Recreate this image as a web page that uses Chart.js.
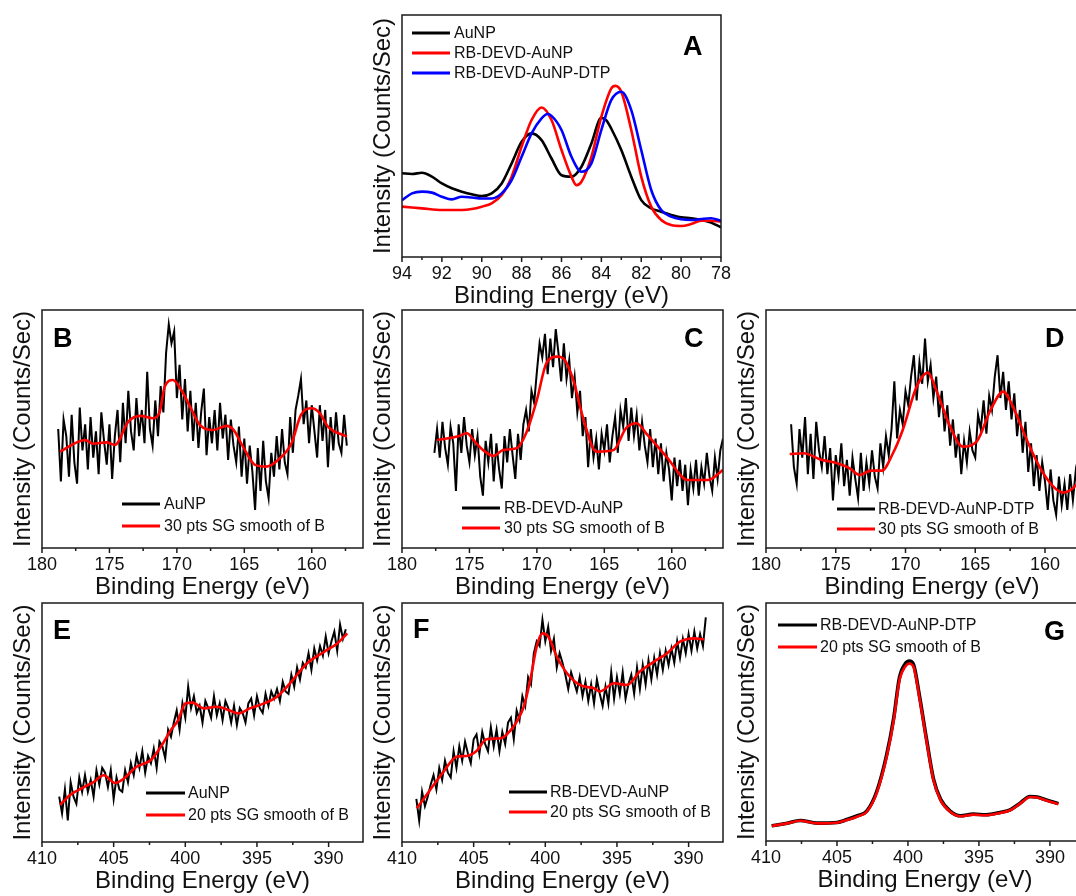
<!DOCTYPE html>
<html>
<head>
<meta charset="utf-8">
<script src="https://cdn.jsdelivr.net/npm/chart.js@4.4.1/dist/chart.umd.min.js"></script>
<style>
  html, body { margin: 0; padding: 0; background: #fff; overflow: hidden; }
  body { width: 1076px; height: 896px; position: relative; }
  canvas { position: absolute; }
</style>
</head>
<body>
<script>
// ---- Panel A: Au 4f ----
const aEvAuNP = [94, 93.5, 93, 92.5, 92, 91.5, 91, 90.5, 90, 89.5, 89, 88.5, 88, 87.5, 87, 86.5, 86, 85.5, 85, 84.5, 84, 83.75, 83.5, 83, 82.5, 82, 81.5, 81, 80.5, 80, 79.5, 79, 78.5, 78];
const aAuNP = [34.6, 34.3, 34.8, 33.2, 30.4, 28.4, 27.0, 25.9, 25.2, 26.3, 30.4, 38.7, 47.6, 51.1, 48.3, 40.7, 33.8, 33.2, 37.3, 46.9, 57.5, 56.5, 53.0, 44.2, 33.2, 23.5, 20.1, 18.7, 17.4, 16.4, 16.0, 15.3, 14.2, 12.3];
const aEvRb = [94, 93, 92, 91, 90.5, 90, 89.5, 89, 88.5, 88, 87.5, 87, 86.5, 86, 85.5, 85.25, 85, 84.5, 84, 83.5, 83.3, 83, 82.5, 82, 81.5, 81, 80.5, 80, 79.5, 79, 78.5, 78];
const aRbDevd = [20.8, 20.1, 19.4, 19.4, 19.8, 20.8, 22.2, 25.6, 33.2, 45.6, 56.6, 61.8, 56.6, 44.2, 33.2, 29.7, 31.1, 41.4, 58.0, 69.7, 70.7, 68.3, 52.5, 33.2, 20.8, 15.3, 13.2, 12.8, 13.6, 15.0, 15.0, 14.6];
const aEvDtp = [94, 93.5, 93, 92.5, 92, 91.5, 91, 90.5, 90, 89.5, 89, 88.5, 88, 87.5, 87, 86.7, 86.5, 86, 85.5, 85, 84.5, 84, 83.5, 83, 82.5, 82, 81.5, 81, 80.5, 80, 79.5, 79, 78.5, 78];
const aRbDevdDtp = [23.5, 26.3, 27.0, 26.6, 24.9, 23.8, 24.9, 24.6, 24.2, 24.2, 26.3, 31.8, 41.4, 51.1, 57.3, 59.1, 58.3, 52.5, 41.4, 35.2, 38.7, 52.5, 64.9, 68.3, 60.7, 44.2, 27.7, 19.4, 16.7, 15.6, 15.3, 15.7, 16.0, 15.0];

// ---- Panel B: S 2p, AuNP ----
const bEv = [178.8, 178.6, 178.4, 178.2, 178.0, 177.8, 177.6, 177.4, 177.2, 177.0,
  176.8, 176.6, 176.4, 176.2, 176.0, 175.8, 175.6, 175.4, 175.2, 175.0,
  174.8, 174.6, 174.4, 174.2, 174.0, 173.8, 173.6, 173.4, 173.2, 173.0,
  172.8, 172.6, 172.4, 172.2, 172.0, 171.8, 171.6, 171.4, 171.2, 171.0,
  170.8, 170.6, 170.4, 170.2, 170.0, 169.8, 169.6, 169.4, 169.2, 169.0,
  168.8, 168.6, 168.4, 168.2, 168.0, 167.8, 167.6, 167.4, 167.2, 167.0,
  166.8, 166.6, 166.4, 166.2, 166.0, 165.8, 165.6, 165.4, 165.2, 165.0,
  164.8, 164.6, 164.4, 164.2, 164.0, 163.8, 163.6, 163.4, 163.2, 163.0,
  162.8, 162.6, 162.4, 162.2, 162.0, 161.8, 161.6, 161.4, 161.2, 161.0,
  160.8, 160.6, 160.4, 160.2, 160.0, 159.8, 159.6, 159.4, 159.2, 159.0,
  158.8, 158.6, 158.4, 158.2, 158.0, 157.8, 157.6, 157.4];
const bRaw = [50, 28, 54, 47, 30, 56, 36, 27, 59, 41,
  52, 33, 55, 38, 49, 31, 57, 45, 35, 52,
  29, 47, 58, 36, 61, 44, 66, 49, 41, 63,
  47, 58, 44, 74, 50, 43, 62, 47, 68, 57,
  82, 94, 86, 91, 63, 77, 54, 71, 49, 66,
  45, 61, 42, 57, 67, 39, 55, 44, 58, 41,
  61, 46, 56, 37, 54, 43, 36, 51, 30, 46,
  27, 43, 32, 16, 42, 24, 45, 28, 21, 40,
  30, 47, 33, 50, 36, 31, 55, 40, 58, 64,
  71, 52, 62, 44, 60, 49, 38, 60, 45, 58,
  34, 55, 41, 57, 44, 40, 56, 43];
const bSmEv = [178.67, 176.8, 176.2, 175.2, 174.6, 173.6, 172.7, 171.8, 171.3, 170.9, 170.3, 169.65, 168.9, 168.3, 167.3, 166.3, 165.8, 165.1, 164.2, 163.4, 162.5, 161.5, 160.8, 160.0, 159.4, 158.8, 157.4];
const bSmooth = [40.5, 45.4, 43.8, 44.4, 43.3, 53.1, 55.5, 54.5, 56.6, 67.8, 70.6, 66.2, 58, 51.7, 49.6, 51.3, 49.6, 42.6, 34.9, 34.2, 37.0, 44.0, 55.9, 58.7, 56.6, 51.0, 46.8];

// ---- Panel C: S 2p, RB-DEVD-AuNP ----
const cEv = [177.6, 177.4, 177.2, 177.0, 176.8, 176.6, 176.4, 176.2, 176.0, 175.8,
  175.6, 175.4, 175.2, 175.0, 174.8, 174.6, 174.4, 174.2, 174.0, 173.8,
  173.6, 173.4, 173.2, 173.0, 172.8, 172.6, 172.4, 172.2, 172.0, 171.8,
  171.6, 171.4, 171.2, 171.0, 170.8, 170.6, 170.4, 170.2, 170.0, 169.8,
  169.6, 169.4, 169.2, 169.0, 168.8, 168.6, 168.4, 168.2, 168.0, 167.8,
  167.6, 167.4, 167.2, 167.0, 166.8, 166.6, 166.4, 166.2, 166.0, 165.8,
  165.6, 165.4, 165.2, 165.0, 164.8, 164.6, 164.4, 164.2, 164.0, 163.8,
  163.6, 163.4, 163.2, 163.0, 162.8, 162.6, 162.4, 162.2, 162.0, 161.8,
  161.6, 161.4, 161.2, 161.0, 160.8, 160.6, 160.4, 160.2, 160.0, 159.8,
  159.6, 159.4, 159.2, 159.0, 158.8, 158.6, 158.4, 158.2, 158.0, 157.8,
  157.6, 157.4, 157.2, 157.0, 156.8, 156.6, 156.4, 156.2];
const cRaw = [40, 50, 38, 53, 42, 35, 51, 44, 24, 52,
  40, 55, 43, 36, 50, 39, 47, 30, 22, 45,
  36, 48, 28, 44, 33, 25, 47, 36, 50, 39,
  29, 48, 37, 52, 58, 49, 66, 61, 74, 86,
  80, 90, 73, 88, 76, 92, 82, 70, 86, 71,
  79, 63, 72, 57, 66, 47, 55, 34, 50, 38,
  46, 33, 48, 41, 52, 36, 47, 55, 40, 58,
  51, 63, 45, 59, 47, 56, 41, 53, 43, 36,
  50, 34, 46, 31, 44, 28, 40, 33, 20, 38,
  26, 37, 24, 35, 18, 33, 25, 37, 22, 34,
  27, 40, 30, 24, 38, 29, 41, 46];
const cSmEv = [177.4, 175.9, 175.2, 174.6, 174.0, 173.2, 172.5, 171.5, 170.8, 170.0, 169.3, 168.5, 168.05, 167.3, 166.6, 165.6, 164.3, 163.4, 162.6, 161.9, 160.4, 158.8, 157.3, 156.2];
const cSmooth = [45.4, 46.8, 48.2, 44.7, 41.2, 38.7, 41.2, 41.9, 48.2, 62.2, 77.6, 80.4, 79.7, 70.6, 55.2, 40.5, 41.2, 50.3, 52.4, 48.2, 38.4, 28.6, 28.6, 32.8];

// ---- Panel D: S 2p, RB-DEVD-AuNP-DTP ----
const dEv = [178.2, 178.0, 177.8, 177.6, 177.4, 177.2, 177.0, 176.8, 176.6, 176.4,
  176.2, 176.0, 175.8, 175.6, 175.4, 175.2, 175.0, 174.8, 174.6, 174.4,
  174.2, 174.0, 173.8, 173.6, 173.4, 173.2, 173.0, 172.8, 172.6, 172.4,
  172.2, 172.0, 171.8, 171.6, 171.4, 171.2, 171.0, 170.8, 170.6, 170.4,
  170.2, 170.0, 169.8, 169.6, 169.4, 169.2, 169.0, 168.8, 168.6, 168.4,
  168.2, 168.0, 167.8, 167.6, 167.4, 167.2, 167.0, 166.8, 166.6, 166.4,
  166.2, 166.0, 165.8, 165.6, 165.4, 165.2, 165.0, 164.8, 164.6, 164.4,
  164.2, 164.0, 163.8, 163.6, 163.4, 163.2, 163.0, 162.8, 162.6, 162.4,
  162.2, 162.0, 161.8, 161.6, 161.4, 161.2, 161.0, 160.8, 160.6, 160.4,
  160.2, 160.0, 159.8, 159.6, 159.4, 159.2, 159.0, 158.8, 158.6, 158.4,
  158.2, 158.0, 157.8, 157.6, 157.4, 157.2];
const dRaw = [52, 34, 27, 50, 38, 55, 31, 48, 29, 53,
  41, 34, 47, 31, 42, 20, 39, 30, 44, 26,
  37, 22, 38, 29, 21, 40, 24, 36, 27, 41,
  30, 25, 44, 34, 47, 39, 50, 70, 46, 58,
  52, 66, 60, 72, 81, 62, 78, 69, 88, 70,
  77, 63, 72, 55, 66, 49, 60, 43, 54, 38,
  48, 31, 45, 36, 49, 41, 38, 56, 50, 62,
  48, 64, 58, 72, 81, 63, 74, 58, 70, 54,
  65, 47, 58, 40, 53, 32, 44, 26, 39, 24,
  36, 28, 16, 33, 20, 14, 30, 18, 27, 16,
  31, 20, 32, 24, 35, 27];
const dSmEv = [178.3, 177.3, 176.1, 174.9, 174.0, 173.3, 172.5, 171.7, 170.9, 170.2, 169.2, 168.4, 167.8, 166.8, 165.9, 164.9, 163.9, 163.0, 162.3, 161.3, 160.4, 159.4, 158.7, 158.0, 157.3];
const dSmooth = [39.5, 39.8, 37.2, 35.6, 33.5, 30.7, 32.5, 32.5, 39.8, 49.6, 67.8, 73.7, 66.4, 51.0, 42.6, 44.7, 58.0, 65.7, 59.4, 45.4, 34.2, 25.8, 23.3, 25.1, 30];

// ---- Panel E: N 1s, AuNP ----
const eEv = [408.8, 408.6, 408.4, 408.2, 408.0, 407.8, 407.6, 407.4, 407.2, 407.0,
  406.8, 406.6, 406.4, 406.2, 406.0, 405.8, 405.6, 405.4, 405.2, 405.0,
  404.8, 404.6, 404.4, 404.2, 404.0, 403.8, 403.6, 403.4, 403.2, 403.0,
  402.8, 402.6, 402.4, 402.2, 402.0, 401.8, 401.6, 401.4, 401.2, 401.0,
  400.8, 400.6, 400.4, 400.2, 400.0, 399.8, 399.6, 399.4, 399.2, 399.0,
  398.8, 398.6, 398.4, 398.2, 398.0, 397.8, 397.6, 397.4, 397.2, 397.0,
  396.8, 396.6, 396.4, 396.2, 396.0, 395.8, 395.6, 395.4, 395.2, 395.0,
  394.8, 394.6, 394.4, 394.2, 394.0, 393.8, 393.6, 393.4, 393.2, 393.0,
  392.8, 392.6, 392.4, 392.2, 392.0, 391.8, 391.6, 391.4, 391.2, 391.0,
  390.8, 390.6, 390.4, 390.2, 390.0, 389.8, 389.6, 389.4, 389.2, 389.0,
  388.8];
const eRaw = [19, 12, 22, 9, 25, 19, 16, 27, 21, 28,
  21, 26, 19, 30, 24, 31, 29, 23, 30, 18,
  27, 22, 21, 30, 25, 33, 28, 36, 31, 38,
  29, 36, 33, 39, 31, 42, 40, 35, 47, 44,
  50, 55, 47, 58, 52, 65, 56, 61, 54, 57,
  50, 59, 56, 52, 61, 53, 58, 51, 59, 56,
  50, 57, 49, 56, 54, 50, 58, 60, 53, 61,
  56, 54, 62, 57, 63, 60, 64, 59, 67, 63,
  62, 70, 65, 73, 68, 75, 73, 79, 72, 81,
  76, 82, 78, 86, 79, 84, 88, 80, 91, 85,
  89];
const eSmEv = [408.74, 408.04, 407.1, 406.4, 405.7, 404.9, 404.3, 403.4, 402.4, 401.7, 401.0, 400.5, 400.0, 399.5, 398.7, 397.8, 396.9, 396.3, 395.5, 394.5, 393.6, 392.7, 391.5, 390.3, 389.4, 388.7];
const eSmooth = [15.5, 19.7, 22.9, 25.1, 27.9, 24.7, 26.5, 31.5, 34.3, 39.9, 46.9, 51.0, 58.0, 58.3, 55.9, 56.6, 55.0, 53.8, 55.9, 58.0, 60.8, 66.4, 74.8, 79.6, 83.1, 87.3];

// ---- Panel F: N 1s, RB-DEVD-AuNP ----
const fEv = [409.0, 408.8, 408.6, 408.4, 408.2, 408.0, 407.8, 407.6, 407.4, 407.2,
  407.0, 406.8, 406.6, 406.4, 406.2, 406.0, 405.8, 405.6, 405.4, 405.2,
  405.0, 404.8, 404.6, 404.4, 404.2, 404.0, 403.8, 403.6, 403.4, 403.2,
  403.0, 402.8, 402.6, 402.4, 402.2, 402.0, 401.8, 401.6, 401.4, 401.2,
  401.0, 400.8, 400.6, 400.4, 400.2, 400.0, 399.8, 399.6, 399.4, 399.2,
  399.0, 398.8, 398.6, 398.4, 398.2, 398.0, 397.8, 397.6, 397.4, 397.2,
  397.0, 396.8, 396.6, 396.4, 396.2, 396.0, 395.8, 395.6, 395.4, 395.2,
  395.0, 394.8, 394.6, 394.4, 394.2, 394.0, 393.8, 393.6, 393.4, 393.2,
  393.0, 392.8, 392.6, 392.4, 392.2, 392.0, 391.8, 391.6, 391.4, 391.2,
  391.0, 390.8, 390.6, 390.4, 390.2, 390.0, 389.8, 389.6, 389.4, 389.2,
  389.0, 388.8];
const fRaw = [18, 9, 21, 15, 19, 24, 28, 22, 31, 26,
  34, 29, 27, 38, 31, 40, 34, 42, 37, 33,
  43, 45, 37, 46, 41, 38, 48, 40, 47, 38,
  46, 41, 50, 52, 43, 55, 51, 61, 57, 69,
  66, 79, 84, 82, 93, 84, 90, 80, 85, 73,
  79, 75, 70, 64, 71, 67, 63, 69, 61, 67,
  59, 66, 58, 68, 62, 57, 65, 58, 71, 60,
  69, 62, 71, 60, 66, 70, 62, 73, 64, 74,
  66, 76, 68, 77, 70, 79, 72, 80, 74, 81,
  75, 84, 77, 85, 79, 87, 80, 88, 81, 87,
  82, 94];
const fSmEv = [408.97, 408.04, 407.1, 406.2, 405.5, 404.8, 404.1, 403.1, 402.4, 402.0, 401.5, 401.0, 400.6, 400.2, 399.8, 399.2, 398.5, 397.6, 396.6, 396.2, 395.2, 394.3, 393.4, 392.4, 391.5, 390.6, 389.6, 388.9];
const fSmooth = [14.1, 21.8, 29.4, 35.7, 36.0, 38.1, 43.0, 43.4, 46.9, 50.3, 56.6, 69.3, 81.8, 87.3, 86.0, 77.6, 70.7, 65.7, 64.3, 63.0, 66.4, 65.7, 71.3, 75.5, 79.0, 83.8, 85.2, 84.8];

// ---- Panel G: N 1s, RB-DEVD-AuNP-DTP ----
const gEv = [409.6, 408.5, 407.6, 406.4, 405.0, 404.3, 403.6, 402.9, 402.2, 401.5, 401.0, 400.6, 400.2, 399.9, 399.6, 399.2, 398.7, 398.2, 397.7, 397.0, 396.3, 395.4, 394.5, 393.5, 392.8, 392.1, 391.4, 390.9, 390.2, 389.4];
const gRaw = [6.4, 7.5, 8.6, 7.5, 7.8, 9.0, 10.5, 12.6, 20.8, 36.2, 51.8, 68.6, 74.4, 75.6, 74.0, 61.3, 43.0, 26.0, 17.5, 12.4, 10.6, 11.3, 11.0, 12.0, 13.1, 15.9, 18.7, 18.5, 17.1, 15.7];
const gSmooth = [6.3, 7.4, 8.5, 7.4, 7.7, 8.8, 10.2, 12.3, 20.2, 35.4, 50.8, 67.6, 73.2, 74.6, 73.0, 60.5, 42.3, 25.5, 17.1, 12.2, 10.4, 11.1, 10.8, 11.8, 12.9, 15.7, 18.5, 18.3, 16.9, 15.5];

const FONT = '"Liberation Sans", Arial, Helvetica, sans-serif';
const BLACK = '#000000';
const RED = '#ff0000';
const BLUE = '#0000ff';

function pts(xs, ys) {
    return xs.map((x, i) => ({ x, y: ys[i] }));
}

function rawLine(xs, ys) {
    return { data: pts(xs, ys), borderColor: BLACK, borderWidth: 2, pointRadius: 0, tension: 0, order: 1 };
}

function smoothLine(xs, ys, color, order) {
    return { data: pts(xs, ys), borderColor: color, borderWidth: 2.6, pointRadius: 0, cubicInterpolationMode: 'monotone', order };
}

// frame, outward bottom ticks, legend and panel letter
const panelDeco = {
    id: 'panelDeco',
    afterDatasetsDraw(chart, args, opts) {
        const ctx = chart.ctx;
        const area = chart.chartArea;
        const xs = chart.scales.x;
        const ox = opts.originX;
        const oy = opts.originY;
        ctx.save();
        ctx.strokeStyle = '#1a1a1a';
        ctx.lineWidth = 1.5;
        ctx.strokeRect(area.left, area.top, area.right - area.left, area.bottom - area.top);

        const n0 = Math.ceil(xs.min / opts.minor - 1e-6);
        const n1 = Math.floor(xs.max / opts.minor + 1e-6);
        for (let n = n0; n <= n1; n++) {
            const v = n * opts.minor;
            const px = xs.getPixelForValue(v);
            const r = v / opts.major;
            const major = Math.abs(r - Math.round(r)) < 1e-6;
            ctx.beginPath();
            ctx.moveTo(px, area.bottom);
            ctx.lineTo(px, area.bottom + (major ? 5 : 3));
            ctx.stroke();
        }

        const leg = opts.legend;
        ctx.font = '16px ' + FONT;
        ctx.textBaseline = 'middle';
        ctx.textAlign = 'left';
        leg.items.forEach((item, i) => {
            const y = leg.y - oy + i * leg.gap;
            ctx.strokeStyle = item.color;
            ctx.lineWidth = 3;
            ctx.beginPath();
            ctx.moveTo(leg.x0 - ox, y);
            ctx.lineTo(leg.x1 - ox, y);
            ctx.stroke();
            ctx.fillStyle = '#111';
            ctx.fillText(item.text, leg.tx - ox, y + 1);
        });

        ctx.font = 'bold 27px ' + FONT;
        ctx.textBaseline = 'alphabetic';
        ctx.fillStyle = '#000';
        ctx.fillText(opts.letter.text, opts.letter.x - ox, opts.letter.y - oy);
        ctx.restore();
    }
};

const PAD_TOP = 6;
const PAD_RIGHT = 14;
const Y_W = 42;
const X_H = 58;

function makePanel(p) {
    const canvas = document.createElement('canvas');
    const left = p.plot[0] - Y_W;
    const top = p.plot[1] - PAD_TOP;
    const w = p.plot[2] - p.plot[0] + Y_W + PAD_RIGHT;
    const h = p.plot[3] - p.plot[1] + PAD_TOP + X_H;
    canvas.width = w;
    canvas.height = h;
    canvas.style.left = left + 'px';
    canvas.style.top = top + 'px';
    canvas.style.width = w + 'px';
    canvas.style.height = h + 'px';
    document.body.appendChild(canvas);

    new Chart(canvas.getContext('2d'), {
        type: 'line',
        data: { datasets: p.datasets },
        options: {
            responsive: false,
            animation: false,
            devicePixelRatio: 1,
            layout: { padding: { top: PAD_TOP, right: PAD_RIGHT, left: 0, bottom: 0 } },
            plugins: {
                legend: { display: false },
                tooltip: { enabled: false },
                panelDeco: {
                    originX: left,
                    originY: top,
                    major: p.step,
                    minor: p.minor,
                    legend: p.legend,
                    letter: p.letter,
                },
            },
            scales: {
                x: {
                    type: 'linear',
                    reverse: true,
                    min: p.xMin,
                    max: p.xMax,
                    afterFit: (s) => { s.height = X_H; },
                    grid: { display: false, drawTicks: false },
                    border: { display: false },
                    ticks: {
                        stepSize: p.step,
                        includeBounds: false,
                        autoSkip: false,
                        maxRotation: 0,
                        padding: 6,
                        color: '#111',
                        font: { family: FONT, size: 18 },
                    },
                    title: {
                        display: true,
                        text: 'Binding Energy (eV)',
                        color: '#111',
                        font: { family: FONT, size: 24 },
                        padding: { top: 0, bottom: 4 },
                    },
                },
                y: {
                    min: 0,
                    max: 100,
                    afterFit: (s) => { s.width = Y_W; },
                    grid: { display: false, drawTicks: false },
                    border: { display: false },
                    ticks: { display: false },
                    title: {
                        display: true,
                        text: 'Intensity (Counts/Sec)',
                        color: '#111',
                        font: { family: FONT, size: 24 },
                        padding: { top: 9, bottom: 0 },
                    },
                },
            },
        },
        plugins: [panelDeco],
    });
}

const smoothLabel = (n) => n + ' pts SG smooth of B';

const panels = [
    {
        plot: [402, 15, 723, 257], xMin: 78, xMax: 94, step: 2, minor: 1,
        datasets: [
            smoothLine(aEvAuNP, aAuNP, BLACK, 2),
            smoothLine(aEvRb, aRbDevd, RED, 1),
            smoothLine(aEvDtp, aRbDevdDtp, BLUE, 0),
        ],
        legend: { x0: 412, x1: 450, tx: 454, y: 33, gap: 20, items: [
            { text: 'AuNP', color: BLACK },
            { text: 'RB-DEVD-AuNP', color: RED },
            { text: 'RB-DEVD-AuNP-DTP', color: BLUE },
        ] },
        letter: { text: 'A', x: 683, y: 55 },
    },
    {
        plot: [42, 310, 363, 548], xMin: 156.2, xMax: 180, step: 5, minor: 2.5,
        datasets: [rawLine(bEv, bRaw), smoothLine(bSmEv, bSmooth, RED, 0)],
        legend: { x0: 122, x1: 160, tx: 164, y: 504, gap: 22, items: [
            { text: 'AuNP', color: BLACK },
            { text: smoothLabel(30), color: RED },
        ] },
        letter: { text: 'B', x: 53, y: 347 },
    },
    {
        plot: [402, 310, 723, 548], xMin: 156.2, xMax: 180, step: 5, minor: 2.5,
        datasets: [rawLine(cEv, cRaw), smoothLine(cSmEv, cSmooth, RED, 0)],
        legend: { x0: 462, x1: 500, tx: 504, y: 508, gap: 20, items: [
            { text: 'RB-DEVD-AuNP', color: BLACK },
            { text: smoothLabel(30), color: RED },
        ] },
        letter: { text: 'C', x: 684, y: 347 },
    },
    {
        plot: [766, 310, 1098, 548], xMin: 156.2, xMax: 180, step: 5, minor: 2.5,
        datasets: [rawLine(dEv, dRaw), smoothLine(dSmEv, dSmooth, RED, 0)],
        legend: { x0: 837, x1: 875, tx: 878, y: 509, gap: 20, items: [
            { text: 'RB-DEVD-AuNP-DTP', color: BLACK },
            { text: smoothLabel(30), color: RED },
        ] },
        letter: { text: 'D', x: 1045, y: 347 },
    },
    {
        plot: [42, 603, 363, 842], xMin: 387.6, xMax: 410, step: 5, minor: 2.5,
        datasets: [rawLine(eEv, eRaw), smoothLine(eSmEv, eSmooth, RED, 0)],
        legend: { x0: 146, x1: 185, tx: 188, y: 793, gap: 22, items: [
            { text: 'AuNP', color: BLACK },
            { text: smoothLabel(20), color: RED },
        ] },
        letter: { text: 'E', x: 53, y: 639 },
    },
    {
        plot: [402, 603, 723, 842], xMin: 387.6, xMax: 410, step: 5, minor: 2.5,
        datasets: [rawLine(fEv, fRaw), smoothLine(fSmEv, fSmooth, RED, 0)],
        legend: { x0: 509, x1: 547, tx: 550, y: 792, gap: 20, items: [
            { text: 'RB-DEVD-AuNP', color: BLACK },
            { text: smoothLabel(20), color: RED },
        ] },
        letter: { text: 'F', x: 413, y: 638 },
    },
    {
        plot: [766, 603, 1084, 841], xMin: 387.6, xMax: 410, step: 5, minor: 2.5,
        datasets: [
            { ...smoothLine(gEv, gRaw, BLACK, 1), borderWidth: 3.6 },
            smoothLine(gEv, gSmooth, RED, 0),
        ],
        legend: { x0: 778, x1: 817, tx: 820, y: 625, gap: 22, items: [
            { text: 'RB-DEVD-AuNP-DTP', color: BLACK },
            { text: smoothLabel(20), color: RED },
        ] },
        letter: { text: 'G', x: 1044, y: 640 },
    },
];

panels.forEach(makePanel);
</script>
</body>
</html>
